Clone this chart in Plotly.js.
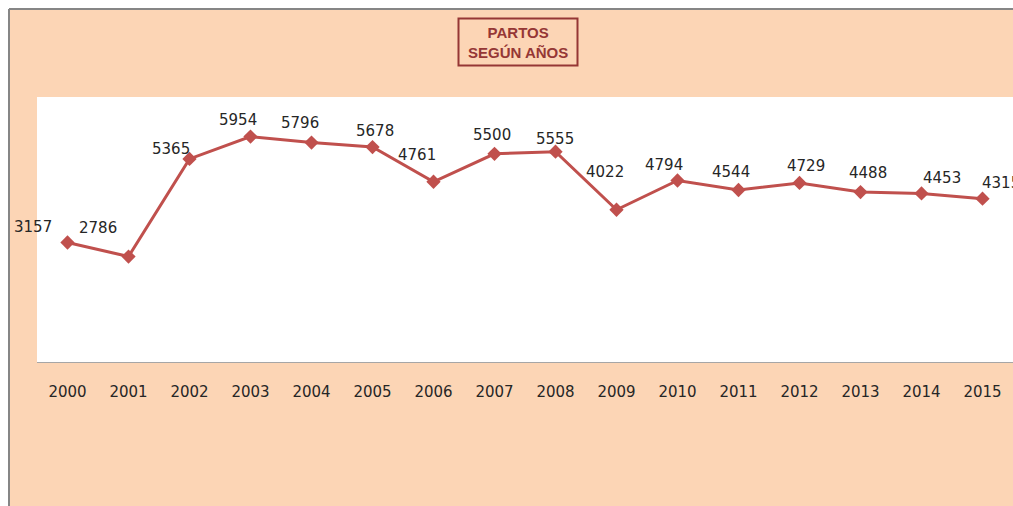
<!DOCTYPE html>
<html>
<head>
<meta charset="utf-8">
<script src="https://cdn.plot.ly/plotly-3.0.1.min.js"></script>
<style>html,body{margin:0;padding:0;background:#fff;}#chart{width:1013px;height:506px;}</style>
</head>
<body>
<div id="chart"></div>
<script>
// ---- data ----
var years = ["2000","2001","2002","2003","2004","2005","2006","2007","2008","2009","2010","2011","2012","2013","2014","2015"];
var partos = [3157, 2786, 5365, 5954, 5796, 5678, 4761, 5500, 5555, 4022, 4794, 4544, 4729, 4488, 4453, 4315];
var titleLines = ["PARTOS", "SEGÚN AÑOS"];

// ---- style / layout helpers ----
var W = 1013, H = 506, ML = 37, MR = 0, MT = 97, MB = 144;
var PW = W - ML - MR, PH = H - MT - MB;
function px(x){ return (x - ML) / PW; }
function py(y){ return (H - MB - y) / PH; }

// label offsets (pixels) relative to each point
var labelDX = [-35, -30.5, -19, -12.5, -12, 2.5, -17, -2.5, -1, -11.5, -14, -7.5, 6, 7, 20.5, 18.5];
var labelDY = [15, 28.5, 10, 17, 19.5, 16.5, 26.5, 18.5, 12.5, 37.5, 16, 18, 16.5, 19.5, 15, 15.5];

var lineColor = '#C0504D';
var peach = '#FCD5B5';
var darkRed = '#953735';
function labFont(){ return {family: 'DejaVu Sans, sans-serif', size: 15, color: '#262626'}; }

var trace = {
  x: years, y: partos, type: 'scatter', mode: 'lines+markers',
  line: {color: lineColor, width: 3},
  marker: {symbol: 'diamond', size: 11, color: lineColor},
  hoverinfo: 'x+y', cliponaxis: false
};

var annotations = years.map(function(yr, i){
  return {
    x: i, y: partos[i], xref: 'x', yref: 'y',
    text: String(partos[i]), showarrow: false,
    xshift: labelDX[i], yshift: labelDY[i],
    font: labFont(), xanchor: 'center', yanchor: 'middle'
  };
});
annotations.push({
  xref: 'paper', yref: 'paper', x: px(517.5), y: py(42),
  text: titleLines.join('<br>'), showarrow: false,
  xanchor: 'center', yanchor: 'middle', align: 'center',
  font: {family: 'Liberation Sans, Arial, sans-serif', size: 15, color: darkRed, weight: 'bold'}
});

var shapes = [
  {type: 'rect', xref: 'paper', yref: 'paper', x0: px(-5), x1: px(9), y0: py(520), y1: py(-5), fillcolor: '#ffffff', line: {width: 0}, layer: 'above'},
  {type: 'rect', xref: 'paper', yref: 'paper', x0: px(-5), x1: px(1030), y0: py(9), y1: py(-5), fillcolor: '#ffffff', line: {width: 0}, layer: 'above'},
  {type: 'line', xref: 'paper', yref: 'paper', x0: px(9), x1: px(9), y0: py(9), y1: py(520), line: {color: '#868686', width: 2}, layer: 'above'},
  {type: 'line', xref: 'paper', yref: 'paper', x0: px(9), x1: px(1030), y0: py(9), y1: py(9), line: {color: '#868686', width: 2}, layer: 'above'},
  {type: 'rect', xref: 'paper', yref: 'paper', x0: px(458.5), x1: px(577.5), y0: py(65.5), y1: py(18.5), fillcolor: 'rgba(0,0,0,0)', line: {color: darkRed, width: 2}, layer: 'above'}
];

var layout = {
  width: W, height: H, autosize: false,
  margin: {l: ML, r: MR, t: MT, b: MB, pad: 0},
  paper_bgcolor: peach, plot_bgcolor: '#ffffff',
  showlegend: false,
  xaxis: {
    type: 'category', range: [-0.5, 15.5], showgrid: false, zeroline: false,
    showline: true, linecolor: '#A6A6A6', linewidth: 1,
    ticks: '', ticklabelstandoff: 16,
    tickfont: labFont(), fixedrange: true
  },
  yaxis: {
    range: [0, 7000], showgrid: false, zeroline: false, showline: false,
    showticklabels: false, ticks: '', fixedrange: true
  },
  annotations: annotations,
  shapes: shapes
};

Plotly.newPlot('chart', [trace], layout, {displayModeBar: false, staticPlot: true});
</script>
</body>
</html>
